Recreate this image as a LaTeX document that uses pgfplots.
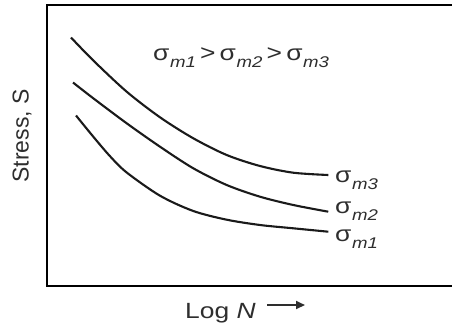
\documentclass[border=0pt]{standalone}
\usepackage{pgfplots}
\pgfplotsset{compat=1.18}
\usepackage{fontspec}
\setmainfont{Liberation Sans}
\usetikzlibrary{arrows.meta}

\definecolor{txt}{HTML}{2E2E2E}
\definecolor{crv}{HTML}{1A1A1A}

% sigma with an italic subscript, stretched sideways like the rest of the lettering
\newcommand{\lbl}{\fontsize{22}{26}\selectfont}
\newcommand{\sig}[1]{σ\kern0.5pt\raisebox{-7.5pt}{\fontsize{15.5}{16}\selectfont\itshape #1}}
\newcommand{\wide}[1]{\scalebox{1.2}[1]{#1}}
\newcommand{\gt}{\kern3.5pt>\kern3.5pt}

\begin{document}
\begin{tikzpicture}
\begin{axis}[
  at={(0,0)}, anchor=south west,
  scale only axis, width=410pt, height=281pt,
  xmin=47, xmax=457, ymin=5, ymax=286, y dir=reverse,
  axis line style={line width=2.8pt, black},
  ticks=none,
  clip=false,
]
% sigma_m3 (lowest mean stress, highest curve)
\addplot[smooth, line width=2.1pt, color=crv] coordinates {
  (71,37.5) (93.3,60.5) (126.7,91.7) (160,117.3) (193.3,138.3)
  (226.7,155) (260,166) (293.3,172.7) (328.3,175)
};
% sigma_m2
\addplot[smooth, line width=2.1pt, color=crv] coordinates {
  (73,82.5) (93.3,98.3) (126.7,123.3) (160,146.7) (193.3,168.3)
  (226.7,185) (260,196.7) (293.3,205) (328.3,211.7)
};
% sigma_m1 (highest mean stress, lowest curve)
\addplot[smooth, line width=2.1pt, color=crv] coordinates {
  (76,115.5) (93.3,136.7) (110,156.2) (126.7,172.5) (160,195.7)
  (193.3,211) (226.7,219.7) (260,225) (293.3,228.3) (328.3,231.7)
};

\node[anchor=base west, inner sep=0, text=txt]
  at (axis cs:335,182) {\lbl\wide{\sig{m3}}};
\node[anchor=base west, inner sep=0, text=txt]
  at (axis cs:335,213) {\lbl\wide{\sig{m2}}};
\node[anchor=base west, inner sep=0, text=txt]
  at (axis cs:335,241) {\lbl\wide{\sig{m1}}};

\node[anchor=base west, inner sep=0, text=txt]
  at (axis cs:153,60) {\lbl\wide{\sig{m1}\gt\sig{m2}\gt\sig{m3}}};

% axis titles
\node[anchor=base west, inner sep=0, text=txt]
  at (axis cs:185,318) {\lbl\wide{Log \textit{N}}};
\draw[line width=2pt, color=txt, -{Triangle[length=9pt,width=8pt]}]
  (axis cs:267,305) -- (axis cs:305,305);
\node[rotate=90, inner sep=0, text=txt]
  at (axis cs:22,136) {\fontsize{23}{27}\selectfont Stress, S};
\end{axis}
\pgfresetboundingbox
\useasboundingbox (-47pt,-41pt) rectangle (405pt,286pt);
\end{tikzpicture}
\end{document}
